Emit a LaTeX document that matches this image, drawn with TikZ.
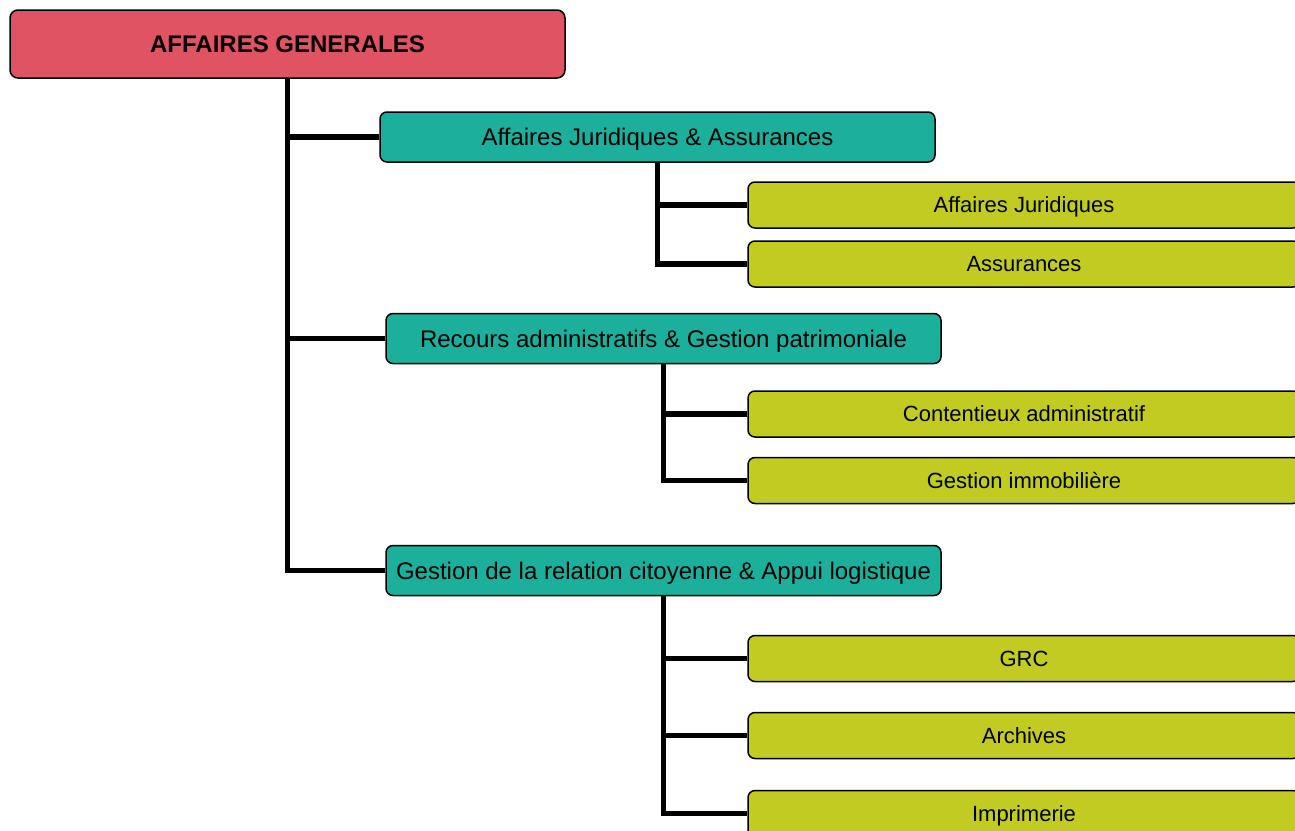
\documentclass[tikz,border=0pt]{standalone}
\usepackage{fontspec}
\setmainfont{Liberation Sans}
\usetikzlibrary{positioning}

\definecolor{rouge}{RGB}{224,83,99}
\definecolor{turquoise}{RGB}{27,175,156}
\definecolor{olive}{RGB}{194,203,34}

\tikzset{
  direction/.style={draw, line width=0.75pt, fill=rouge, rounded corners=4pt,
    minimum width=277.5pt, minimum height=34pt, inner sep=0pt,
    text height=8.6pt, text depth=0pt,
    font=\bfseries\fontsize{12}{14}\selectfont},
  service/.style={draw, line width=0.75pt, fill=turquoise, rounded corners=3.5pt,
    minimum width=277.5pt, minimum height=25pt, inner sep=0pt,
    text height=8.6pt, text depth=0pt,
    font=\fontsize{12}{14}\selectfont},
  unite/.style={draw, line width=0.75pt, fill=olive, rounded corners=3.5pt,
    minimum width=276pt, minimum height=23pt, inner sep=0pt,
    text height=7.9pt, text depth=0pt,
    font=\fontsize{11}{13}\selectfont},
  lien/.style={line width=2.8pt}
}

\begin{document}
\begin{tikzpicture}[x=0.5pt, y=-0.5pt]
    \useasboundingbox (0,0) rectangle (1295,830);

    % Direction
    \node[direction] (dir) at (287.5,44) {AFFAIRES GENERALES};

    % Services
    \node[service] (jur) at (657.5,137) {Affaires Juridiques \& Assurances};
    \node[service] (rec) at (663.5,338.5) {Recours administratifs \& Gestion patrimoniale};
    \node[service] (grc) at (663.5,570.5) {Gestion de la relation citoyenne \& Appui logistique};

    % Unites
    \node[unite] (aj) at (1024,205) {Affaires Juridiques};
    \node[unite] (ass) at (1024,264) {Assurances};
    \node[unite] (cont) at (1024,414) {Contentieux administratif};
    \node[unite] (immo) at (1024,480.5) {Gestion immobilière};
    \node[unite] (rc) at (1024,658.5) {GRC};
    \node[unite] (arch) at (1024,735.5) {Archives};
    \node[unite] (impr) at (1024,813.5) {Imprimerie};

    % Liens direction -> services
    \draw[lien] (dir.south) |- (grc.west);
    \foreach \s in {jur,rec}
        \draw[lien] (dir.south |- \s.west) -- (\s.west);

    % Liens services -> unites
    \draw[lien] (jur.south) |- (ass.west);
    \draw[lien] (jur.south |- aj.west) -- (aj.west);
    \draw[lien] (rec.south) |- (immo.west);
    \draw[lien] (rec.south |- cont.west) -- (cont.west);
    \draw[lien] (grc.south) |- (impr.west);
    \foreach \u in {rc,arch}
        \draw[lien] (grc.south |- \u.west) -- (\u.west);
\end{tikzpicture}
\end{document}
